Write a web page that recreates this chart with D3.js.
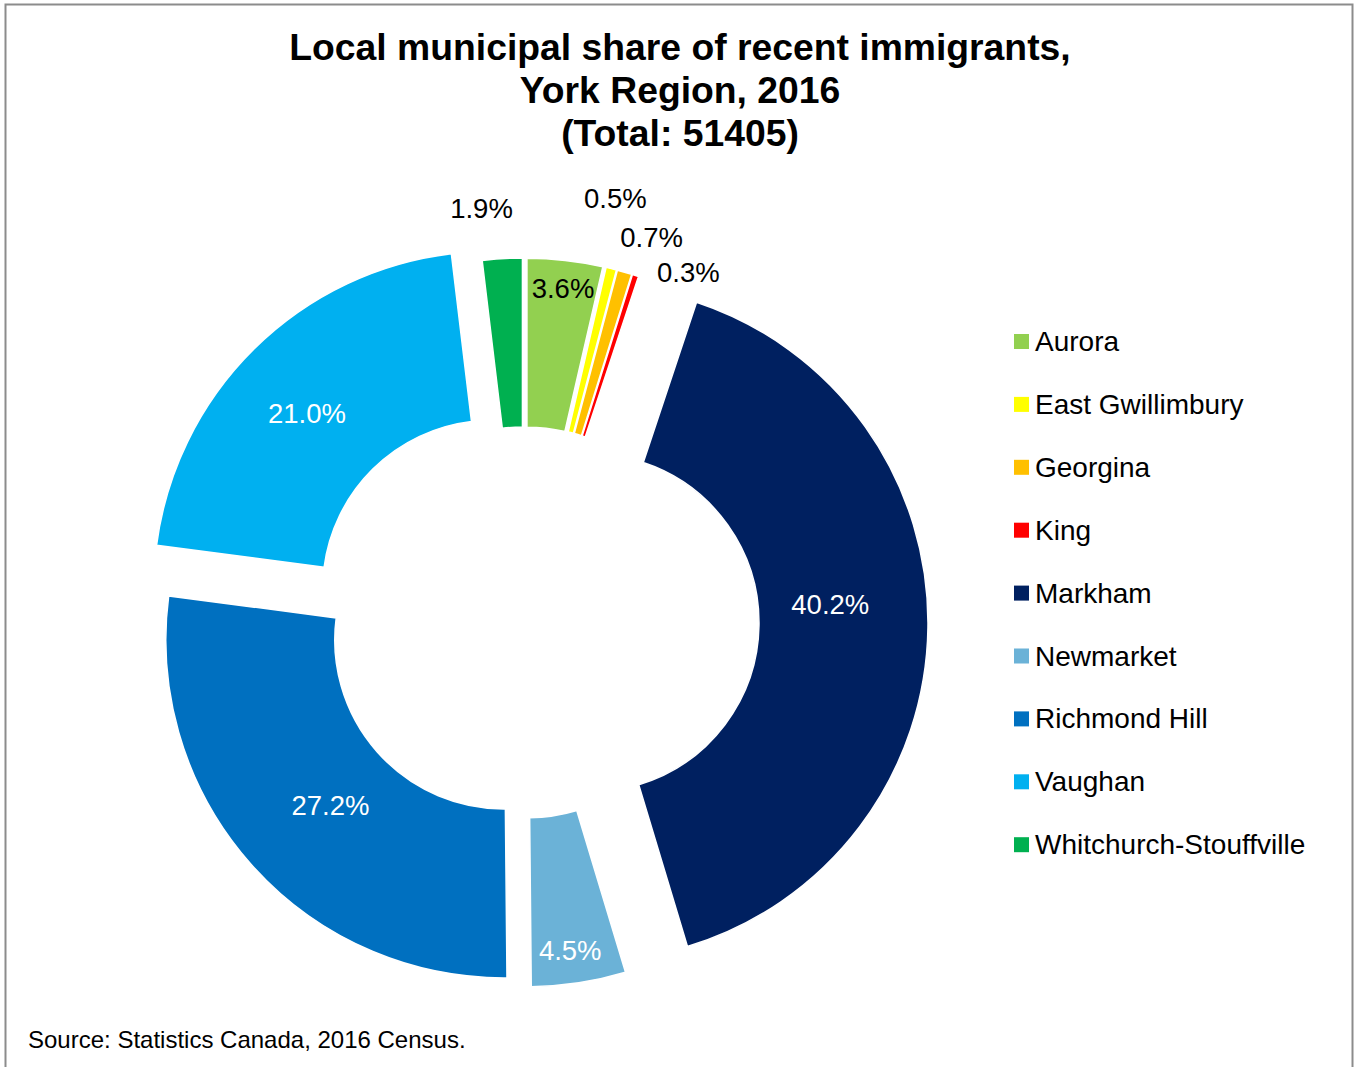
<!DOCTYPE html>
<html>
<head>
<meta charset="utf-8">
<script src="https://cdn.jsdelivr.net/npm/d3@7/dist/d3.min.js"></script>
<style>
  html, body { margin: 0; padding: 0; background: #fff; }
  svg { display: block; font-family: "Liberation Sans", Arial, sans-serif; }
</style>
</head>
<body>
<svg id="chart" width="1354" height="1067"></svg>
<script>
// Recent immigrants by local municipality, York Region, 2016 Census (share of total, %)
const municipalities = [
  "Aurora", "East Gwillimbury", "Georgina", "King", "Markham",
  "Newmarket", "Richmond Hill", "Vaughan", "Whitchurch-Stouffville"
];
const shares = [3.6, 0.5, 0.7, 0.3, 40.2, 4.5, 27.2, 21.0, 1.9];
const titleLines = [
  "Local municipal share of recent immigrants,",
  "York Region, 2016",
  "(Total: 51405)"
];
const sourceNote = "Source: Statistics Canada, 2016 Census.";

// ---- styling ----
const colors = ["#92D050", "#FFFF00", "#FFC000", "#FF0000", "#002060",
                "#6BB2D7", "#0070C0", "#00B0F0", "#00B050"];
const labelColors = ["#000", "#000", "#000", "#000", "#fff",
                     "#fff", "#fff", "#fff", "#000"];
// distance each slice is pulled out from the centre (px)
const explode = [26, 26, 26, 26, 66, 27, 27, 46, 26];
// label placement: radius from the slice centre and angular nudge (degrees)
const labelRadius = [310, 407, 379, 360, 241, 305, 240, 255, 390];
const labelNudge  = [0.2, -1.8, 2.5, 7.9, -5.2, 0.7, -2.25, -1.75, -2.6];

const W = 1354, H = 1067;
const cx = 524, cy = 622;
const rOuter = 338, rInner = 169;

const svg = d3.select("#chart");

// frame
svg.append("rect")
  .attr("x", 5.5).attr("y", 4.5)
  .attr("width", 1347).attr("height", 1070)
  .attr("fill", "none")
  .attr("stroke", "#8c8c8c")
  .attr("stroke-width", 2);

// title
svg.append("text")
  .attr("text-anchor", "middle")
  .attr("font-weight", "bold")
  .attr("font-size", 37.3)
  .attr("fill", "#000")
  .selectAll("tspan")
  .data(titleLines)
  .join("tspan")
  .attr("x", 680)
  .attr("y", (d, i) => 60 + i * 43)
  .text(d => d);

// doughnut
const pie = d3.pie().sort(null).value(d => d)(shares);
const arc = d3.arc().innerRadius(rInner).outerRadius(rOuter);

const mid = d => (d.startAngle + d.endAngle) / 2;
const offset = (d, r, nudgeDeg = 0) => {
  const a = mid(d) + nudgeDeg * Math.PI / 180;
  return [r * Math.sin(a), -r * Math.cos(a)];
};

const g = svg.append("g").attr("transform", `translate(${cx},${cy})`);

const slices = g.selectAll("g.slice")
  .data(pie)
  .join("g")
  .attr("class", "slice")
  .attr("transform", (d, i) => {
    const [dx, dy] = offset(d, explode[i]);
    return `translate(${dx},${dy})`;
  });

slices.append("path")
  .attr("d", arc)
  .attr("fill", (d, i) => colors[i])
  .attr("stroke", "#fff")
  .attr("stroke-width", 1.5)
  .attr("stroke-linejoin", "miter");

slices.append("text")
  .attr("transform", (d, i) => {
    const [x, y] = offset(d, labelRadius[i], labelNudge[i]);
    return `translate(${x},${y})`;
  })
  .attr("text-anchor", "middle")
  .attr("dominant-baseline", "central")
  .attr("font-size", 27.5)
  .attr("fill", (d, i) => labelColors[i])
  .text(d => d3.format(".1f")(d.data) + "%");

// legend
const legend = svg.append("g").attr("transform", "translate(1014,341.5)");
const rows = legend.selectAll("g")
  .data(municipalities)
  .join("g")
  .attr("transform", (d, i) => `translate(0,${i * 62.9})`);
rows.append("rect")
  .attr("x", 0).attr("y", -7.5)
  .attr("width", 15).attr("height", 15)
  .attr("fill", (d, i) => colors[i]);
rows.append("text")
  .attr("x", 21)
  .attr("y", 0)
  .attr("dominant-baseline", "central")
  .attr("font-size", 28)
  .attr("fill", "#000")
  .text(d => d);

// source note
svg.append("text")
  .attr("x", 28).attr("y", 1048)
  .attr("font-size", 24)
  .attr("fill", "#000")
  .text(sourceNote);
</script>
</body>
</html>
